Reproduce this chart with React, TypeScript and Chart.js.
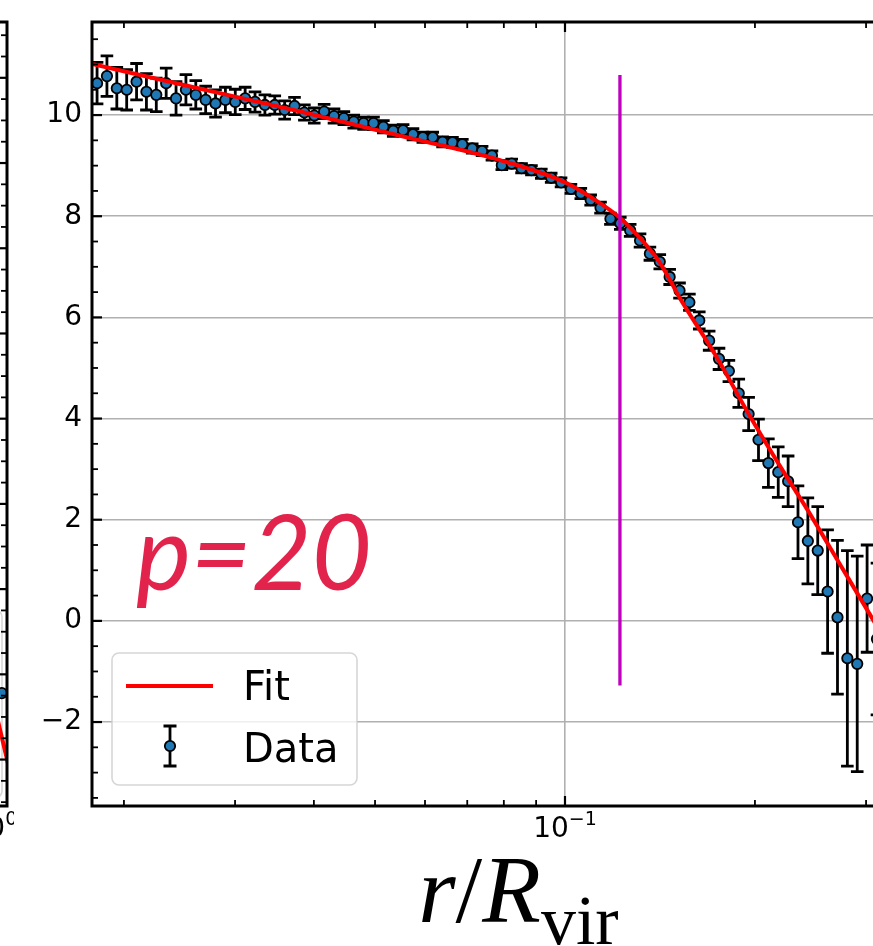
import { useEffect, useRef } from 'react';
import { Chart, registerables } from 'chart.js';

Chart.register(...registerables);

// ---------------- data (main panel) ----------------
const R_BINS = [
  0.018132, 0.018797, 0.019487, 0.020202, 0.020943, 0.021711, 0.022507, 0.023333, 0.024189, 0.025076,
  0.025996, 0.026949, 0.027938, 0.028962, 0.030025, 0.031126, 0.032268, 0.033452, 0.034679, 0.035951,
  0.037269, 0.038636, 0.040053, 0.041523, 0.043046, 0.044625, 0.046262, 0.047959, 0.049718, 0.051541,
  0.053432, 0.055392, 0.057424, 0.059530, 0.061714, 0.063977, 0.066324, 0.068757, 0.071279, 0.073893,
  0.076604, 0.079414, 0.082327, 0.085346, 0.088477, 0.091722, 0.095087, 0.098575, 0.10219, 0.10594,
  0.10982, 0.11385, 0.11803, 0.12236, 0.12685, 0.13150, 0.13632, 0.14132, 0.14651, 0.15188,
  0.15745, 0.16323, 0.16922, 0.17542, 0.18186, 0.18853, 0.19544, 0.20261, 0.21004, 0.21775,
  0.22574, 0.23402, 0.24260, 0.25150, 0.26072, 0.27029, 0.28020, 0.29048, 0.30113, 0.31218,
];

const PROFILE = [
  10.63, 10.77, 10.53, 10.50, 10.66, 10.46, 10.40, 10.63, 10.33, 10.50,
  10.40, 10.30, 10.23, 10.30, 10.26, 10.33, 10.26, 10.20, 10.20, 10.10,
  10.18, 10.05, 9.99, 10.07, 9.98, 9.94, 9.87, 9.84, 9.84, 9.77,
  9.69, 9.70, 9.62, 9.56, 9.56, 9.47, 9.46, 9.42, 9.34, 9.29,
  9.20, 9.01, 9.04, 8.95, 8.91, 8.84, 8.76, 8.67, 8.54, 8.45,
  8.32, 8.17, 7.95, 7.86, 7.72, 7.52, 7.26, 7.10, 6.80, 6.53,
  6.30, 5.94, 5.54, 5.18, 4.94, 4.50, 4.09, 3.58, 3.12, 2.94,
  2.76, 1.95, 1.58, 1.39, 0.58, 0.07, -0.74, -0.85, 0.44, -0.36,
];

const PROFILE_ERR = [
  0.41, 0.40, 0.41, 0.40, 0.36, 0.36, 0.33, 0.30, 0.33, 0.30,
  0.28, 0.27, 0.27, 0.25, 0.25, 0.22, 0.20, 0.20, 0.18, 0.18,
  0.17, 0.15, 0.15, 0.14, 0.14, 0.13, 0.13, 0.12, 0.12, 0.12,
  0.11, 0.11, 0.11, 0.10, 0.10, 0.10, 0.10, 0.10, 0.09, 0.09,
  0.09, 0.09, 0.09, 0.09, 0.09, 0.09, 0.09, 0.09, 0.09, 0.10,
  0.10, 0.11, 0.11, 0.12, 0.12, 0.13, 0.13, 0.14, 0.15, 0.15,
  0.16, 0.17, 0.19, 0.21, 0.21, 0.28, 0.33, 0.41, 0.48, 0.50,
  0.50, 0.72, 0.85, 0.87, 1.22, 1.52, 2.13, 2.13, 1.06, 1.50,
];

const FIT_R = [
  0.0178, 0.02642, 0.03805, 0.05479, 0.07888, 0.1004, 0.1136, 0.1222, 0.1281, 0.1414,
  0.1521, 0.1740, 0.1963, 0.2214, 0.2416, 0.2727, 0.3075, 0.3393,
];
const FIT_VALUES = [
  11.01, 10.52, 10.07, 9.59, 9.11, 8.66, 8.26, 7.97, 7.72, 7.08,
  6.38, 5.21, 4.05, 2.97, 2.22, 1.12, 0.03, -0.86,
];

const MARKER_R = [0.1222, 0.1222];
const MARKER_Y = [10.79, -1.28];

const Y_TICKS = [-2, 0, 2, 4, 6, 8, 10];
const X_MAJOR_TICKS = [0.1];
const X_MAJOR_LABELS = [['10', '\u22121']];
const X_MINOR_TICKS = [0.02, 0.03, 0.04, 0.05, 0.06, 0.07, 0.08, 0.09, 0.2, 0.3, 0.4];
const LEGEND_LABELS = ['Fit', 'Data'];
const PANEL_TEXT = 'p=20';

// ---------------- data (neighbouring panel, only its right edge is visible) ----------------
const LEFT_R = [1.0183];
const LEFT_Y = [-2.44];
const LEFT_FIT_R = [0.9818, 1.0183, 1.0374];
const LEFT_FIT_Y = [-1.78, -3.47, -4.32];
const LEFT_X_MAJOR = [1];
const LEFT_X_LABELS = [['10', '0']];

const FONT = '"DejaVu Sans", sans-serif';
const SERIF = '"Liberation Serif", "Times New Roman", serif';
const MARKER_RADIUS = 5.2;

function drawPowerLabel(ctx: CanvasRenderingContext2D, cx: number, baseline: number, parts: string[]) {
  ctx.font = `28px ${FONT}`;
  const w1 = ctx.measureText(parts[0]).width;
  ctx.font = `19px ${FONT}`;
  const w2 = ctx.measureText(parts[1]).width;
  const x0 = cx - (w1 + w2) / 2;
  ctx.fillStyle = '#000';
  ctx.textAlign = 'left';
  ctx.textBaseline = 'alphabetic';
  ctx.font = `28px ${FONT}`;
  ctx.fillText(parts[0], x0, baseline);
  ctx.font = `19px ${FONT}`;
  ctx.fillText(parts[1], x0 + w1, baseline - 11.5);
}

function line(ctx: CanvasRenderingContext2D, x1: number, y1: number, x2: number, y2: number, w: number) {
  ctx.lineWidth = w;
  ctx.beginPath();
  ctx.moveTo(x1, y1);
  ctx.lineTo(x2, y2);
  ctx.stroke();
}

function errorBar(ctx: CanvasRenderingContext2D, x: number, yTop: number, yBot: number, cap: number) {
  ctx.beginPath();
  ctx.moveTo(x, yTop);
  ctx.lineTo(x, yBot);
  ctx.moveTo(x - cap, yTop);
  ctx.lineTo(x + cap, yTop);
  ctx.moveTo(x - cap, yBot);
  ctx.lineTo(x + cap, yBot);
  ctx.stroke();
}

const mainDecor = {
  id: 'mainDecor',
  beforeDatasetsDraw(chart: any) {
    const { ctx, chartArea: a, scales } = chart;
    const meta = chart.getDatasetMeta(0);
    ctx.save();
    ctx.beginPath();
    ctx.rect(a.left, a.top, a.right - a.left, a.bottom - a.top);
    ctx.clip();
    ctx.strokeStyle = '#000';
    ctx.lineWidth = 2.8;
    meta.data.forEach((pt: any, i: number) => {
      const yTop = scales.y.getPixelForValue(PROFILE[i] + PROFILE_ERR[i]);
      const yBot = scales.y.getPixelForValue(PROFILE[i] - PROFILE_ERR[i]);
      errorBar(ctx, pt.x, yTop, yBot, 6.3);
    });
    ctx.restore();
  },
  afterDraw(chart: any) {
    const { ctx, chartArea: a, scales } = chart;
    const xs = scales.x;
    const ys = scales.y;
    ctx.save();
    ctx.strokeStyle = '#000';
    // inward ticks
    for (const v of Y_TICKS) {
      const p = ys.getPixelForValue(v);
      line(ctx, a.left, p, a.left + 10, p, 2.2);
      line(ctx, a.right, p, a.right - 10, p, 2.2);
    }
    for (let v = -3.5; v <= 11.5; v += 0.5) {
      if (Y_TICKS.includes(v)) continue;
      const p = ys.getPixelForValue(v);
      line(ctx, a.left, p, a.left + 6, p, 1.8);
      line(ctx, a.right, p, a.right - 6, p, 1.8);
    }
    for (const v of X_MAJOR_TICKS) {
      const p = xs.getPixelForValue(v);
      line(ctx, p, a.bottom, p, a.bottom - 10, 2.2);
      line(ctx, p, a.top, p, a.top + 10, 2.2);
    }
    for (const v of X_MINOR_TICKS) {
      const p = xs.getPixelForValue(v);
      line(ctx, p, a.bottom, p, a.bottom - 6, 1.8);
      line(ctx, p, a.top, p, a.top + 6, 1.8);
    }
    // spines
    ctx.lineWidth = 3;
    ctx.strokeRect(a.left, a.top, a.right - a.left, a.bottom - a.top);

    // x tick labels
    X_MAJOR_TICKS.forEach((v, i) => drawPowerLabel(ctx, xs.getPixelForValue(v), a.bottom + 30.5, X_MAJOR_LABELS[i]));

    // x axis title  r/R_vir
    const parts = [
      { t: 'r', f: `italic 96px ${SERIF}`, dy: 0 },
      { t: '/', f: `96px ${SERIF}`, dy: 0 },
      { t: 'R', f: `italic 96px ${SERIF}`, dy: 0 },
      { t: 'vir', f: `70px ${SERIF}`, dy: 22 },
    ];
    let total = 0;
    const widths = parts.map((p) => {
      ctx.font = p.f;
      const w = ctx.measureText(p.t).width;
      total += w;
      return w;
    });
    let tx = (a.left + a.right) / 2 - total / 2;
    const tBase = a.bottom + 116;
    ctx.fillStyle = '#000';
    ctx.textAlign = 'left';
    ctx.textBaseline = 'alphabetic';
    parts.forEach((p, i) => {
      ctx.font = p.f;
      ctx.fillText(p.t, tx, tBase + p.dy);
      tx += widths[i];
    });

    // annotation text
    ctx.font = `italic 104px Lato, "Open Sans", sans-serif`;
    ctx.fillStyle = '#e2244c';
    ctx.fillText(PANEL_TEXT, a.left + 44, a.bottom - 216);

    // legend
    const lx = a.left + 20;
    const ly = a.bottom - 153;
    ctx.beginPath();
    ctx.roundRect(lx, ly, 245, 132, 7);
    ctx.fillStyle = 'rgba(255,255,255,0.8)';
    ctx.fill();
    ctx.strokeStyle = 'rgba(204,204,204,0.8)';
    ctx.lineWidth = 1.6;
    ctx.stroke();
    // Fit entry
    ctx.strokeStyle = '#ff0000';
    line(ctx, lx + 14, ly + 33, lx + 101, ly + 33, 4);
    ctx.fillStyle = '#000';
    ctx.font = `40px ${FONT}`;
    ctx.fillText(LEGEND_LABELS[0], lx + 131, ly + 47);
    // Data entry
    ctx.strokeStyle = '#000';
    ctx.lineWidth = 2.8;
    errorBar(ctx, lx + 58, ly + 73, ly + 113, 6.5);
    ctx.beginPath();
    ctx.arc(lx + 58, ly + 93, MARKER_RADIUS, 0, Math.PI * 2);
    ctx.fillStyle = '#1f77b4';
    ctx.fill();
    ctx.lineWidth = 1.8;
    ctx.stroke();
    ctx.fillStyle = '#000';
    ctx.fillText(LEGEND_LABELS[1], lx + 131, ly + 109);
    ctx.restore();
  },
};

const leftDecor = {
  id: 'leftDecor',
  beforeDatasetsDraw(chart: any) {
    const { ctx, chartArea: a } = chart;
    ctx.save();
    ctx.beginPath();
    ctx.roundRect(a.right - 200, a.bottom - 196, 195, 188, 7);
    ctx.fillStyle = 'rgba(255,255,255,0.8)';
    ctx.fill();
    ctx.strokeStyle = 'rgba(204,204,204,0.8)';
    ctx.lineWidth = 1.6;
    ctx.stroke();
    ctx.restore();
  },
  afterDraw(chart: any) {
    const { ctx, chartArea: a, scales } = chart;
    const ys = scales.y;
    const xs = scales.x;
    ctx.save();
    ctx.strokeStyle = '#000';
    for (let v = -5; v <= 13; v += 0.5) {
      const p = ys.getPixelForValue(v);
      const major = v % 2 === 0;
      line(ctx, a.right, p, a.right - (major ? 10 : 6), p, major ? 2.2 : 1.8);
    }
    ctx.lineWidth = 3;
    ctx.strokeRect(a.left, a.top, a.right - a.left, a.bottom - a.top);
    LEFT_X_MAJOR.forEach((v, i) => drawPowerLabel(ctx, xs.getPixelForValue(v), a.bottom + 30.5, LEFT_X_LABELS[i]));
    ctx.restore();
  },
};

const MAIN_W = 960;
const LEFT_W = 400;
const H = 946;

const noScalePadding = (s: any) => {
  s.paddingTop = 0;
  s.paddingBottom = 0;
  s.paddingLeft = 0;
  s.paddingRight = 0;
};

export default function App() {
  const mainRef = useRef<HTMLCanvasElement>(null);
  const leftRef = useRef<HTMLCanvasElement>(null);

  useEffect(() => {
    const main = new Chart(mainRef.current as HTMLCanvasElement, {
      type: 'line',
      data: {
        datasets: [
          {
            label: 'Data',
            data: R_BINS.map((r, i) => ({ x: r, y: PROFILE[i] })),
            showLine: false,
            pointRadius: MARKER_RADIUS,
            pointBackgroundColor: '#1f77b4',
            pointBorderColor: '#000',
            pointBorderWidth: 1.8,
            order: 3,
          },
          {
            label: 'Fit',
            data: FIT_R.map((r, i) => ({ x: r, y: FIT_VALUES[i] })),
            borderColor: '#ff0000',
            borderWidth: 4,
            pointRadius: 0,
            cubicInterpolationMode: 'monotone',
            order: 2,
          },
          {
            label: 'marker',
            data: MARKER_R.map((r, i) => ({ x: r, y: MARKER_Y[i] })),
            borderColor: '#bf00bf',
            borderWidth: 3.3,
            pointRadius: 0,
            order: 1,
          },
        ],
      } as any,
      options: {
        responsive: false,
        maintainAspectRatio: false,
        animation: false,
        devicePixelRatio: 1,
        layout: { padding: { left: 0, top: 22, right: 15.1, bottom: 0 } },
        plugins: { legend: { display: false }, tooltip: { enabled: false } },
        scales: {
          x: {
            type: 'logarithmic',
            min: 0.0178,
            max: 0.4,
            afterBuildTicks: (s: any) => {
              s.ticks = X_MAJOR_TICKS.map((v) => ({ value: v }));
            },
            afterFit: (s: any) => {
              s.height = 140;
              noScalePadding(s);
            },
            grid: { color: '#b0b0b0', lineWidth: 1.6, drawTicks: false },
            border: { display: false },
            ticks: { display: false },
          },
          y: {
            type: 'linear',
            min: -3.66,
            max: 11.84,
            afterBuildTicks: (s: any) => {
              s.ticks = Y_TICKS.map((v) => ({ value: v }));
            },
            afterFit: (s: any) => {
              s.width = 92;
              noScalePadding(s);
            },
            grid: { color: '#b0b0b0', lineWidth: 1.6, drawTicks: false },
            border: { display: false },
            ticks: {
              color: '#000',
              padding: 10,
              font: { family: 'DejaVu Sans', size: 28 },
              callback: (v: any) => String(v).replace('-', '\u2212'),
            },
          },
        },
      } as any,
      plugins: [mainDecor],
    });

    const left = new Chart(leftRef.current as HTMLCanvasElement, {
      type: 'line',
      data: {
        datasets: [
          {
            label: 'Data',
            data: LEFT_R.map((r, i) => ({ x: r, y: LEFT_Y[i] })),
            showLine: false,
            pointRadius: MARKER_RADIUS,
            pointBackgroundColor: '#1f77b4',
            pointBorderColor: '#000',
            pointBorderWidth: 1.8,
            order: 2,
          },
          {
            label: 'Fit',
            data: LEFT_FIT_R.map((r, i) => ({ x: r, y: LEFT_FIT_Y[i] })),
            borderColor: '#ff0000',
            borderWidth: 4,
            pointRadius: 0,
            order: 1,
          },
        ],
      } as any,
      options: {
        responsive: false,
        maintainAspectRatio: false,
        animation: false,
        devicePixelRatio: 1,
        layout: { padding: { left: 0, top: 22, right: 7, bottom: 0 } },
        plugins: { legend: { display: false }, tooltip: { enabled: false } },
        scales: {
          x: {
            type: 'logarithmic',
            min: 0.5,
            max: 1.03,
            afterBuildTicks: (s: any) => {
              s.ticks = LEFT_X_MAJOR.map((v) => ({ value: v }));
            },
            afterFit: (s: any) => {
              s.height = 140;
              noScalePadding(s);
            },
            grid: { display: false },
            border: { display: false },
            ticks: { display: false },
          },
          y: {
            type: 'linear',
            min: -5.09,
            max: 13.31,
            afterFit: (s: any) => {
              s.width = 60;
              noScalePadding(s);
            },
            grid: { display: false },
            border: { display: false },
            ticks: { display: false },
          },
        },
      } as any,
      plugins: [leftDecor],
    });

    return () => {
      main.destroy();
      left.destroy();
    };
  }, []);

  return (
    <div
      style={{
        position: 'fixed',
        left: 0,
        top: 0,
        width: 873,
        height: H,
        overflow: 'hidden',
        background: '#fff',
      }}
    >
      <div style={{ position: 'absolute', left: 7 - (LEFT_W - 7), top: 0, width: LEFT_W, height: H }}>
        <canvas ref={leftRef} width={LEFT_W} height={H} style={{ display: 'block', width: LEFT_W, height: H }} />
      </div>
      <div style={{ position: 'absolute', left: 0, top: 0, width: MAIN_W, height: H }}>
        <canvas ref={mainRef} width={MAIN_W} height={H} style={{ display: 'block', width: MAIN_W, height: H }} />
      </div>
    </div>
  );
}
